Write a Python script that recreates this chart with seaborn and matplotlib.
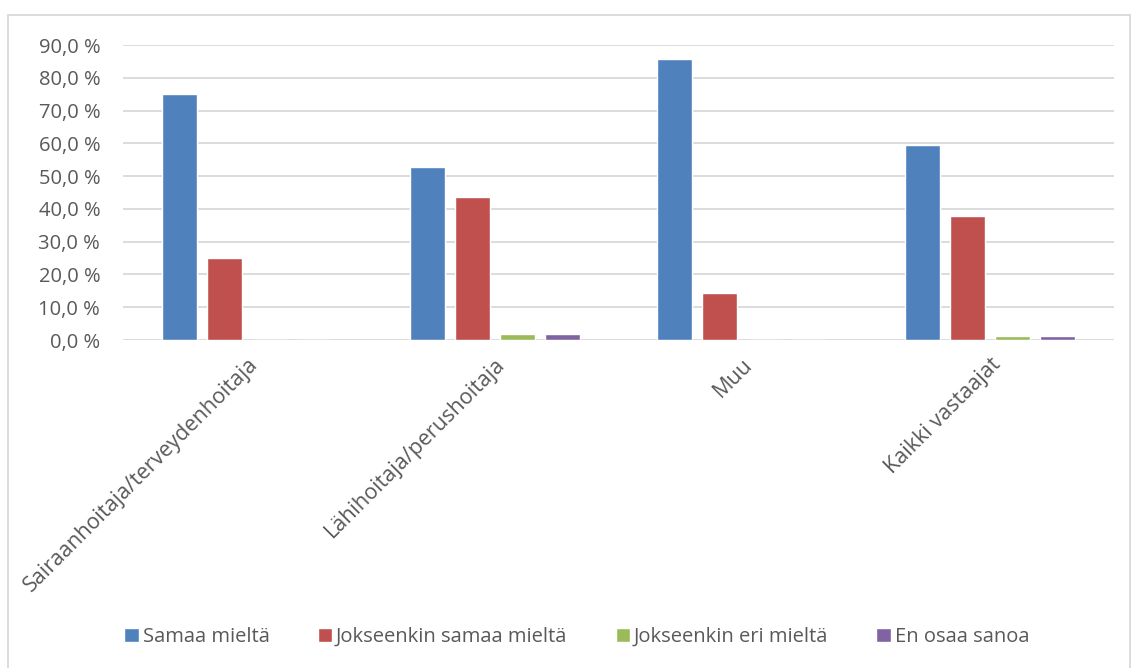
import matplotlib
matplotlib.use("Agg")
import matplotlib.pyplot as plt
import seaborn as sns
import pandas as pd
from matplotlib.ticker import FuncFormatter
from matplotlib.patches import Rectangle

categories = ["Sairaanhoitaja/terveydenhoitaja", "Lähihoitaja/perushoitaja", "Muu", "Kaikki vastaajat"]
series = ["Samaa mieltä", "Jokseenkin samaa mieltä", "Jokseenkin eri mieltä", "En osaa sanoa"]
samaa = [75.0, 52.7, 85.7, 59.5]
jokseenkin_samaa = [25.0, 43.6, 14.3, 37.7]
jokseenkin_eri = [0.0, 1.8, 0.0, 1.3]
en_osaa = [0.0, 1.8, 0.0, 1.3]
colors = ["#4F81BD", "#C0504D", "#9BBB59", "#8064A2"]

rows = []
for s, vals in zip(series, [samaa, jokseenkin_samaa, jokseenkin_eri, en_osaa]):
    for c, v in zip(categories, vals):
        rows.append({"cat": c, "series": s, "value": v})
df = pd.DataFrame(rows)

sns.set_theme(style="white")
plt.rcParams["font.family"] = ["Open Sans", "DejaVu Sans"]

fig = plt.figure(figsize=(11.31, 6.68), dpi=100)
ax = fig.add_axes([0.1088, 0.491, 0.985 - 0.1088, 0.9326 - 0.491])

sns.barplot(data=df, x="cat", y="value", hue="series", order=categories,
            hue_order=series, palette=colors, width=0.727, gap=0.22,
            saturation=1, ax=ax, legend=True)

ax.set_ylim(0, 90)
ax.set_xlim(-0.5, 3.5)
ax.set_yticks(range(0, 91, 10))
ax.yaxis.set_major_formatter(FuncFormatter(lambda v, p: f"{v:.1f} %".replace(".", ",")))
ax.grid(axis="y", color="#D9D9D9", linewidth=1.3)
ax.set_axisbelow(True)
for sp in ax.spines.values():
    sp.set_visible(False)
ax.tick_params(axis="both", length=0, colors="#595959")
ax.tick_params(axis="y", pad=16.5, labelsize=14.5)
ax.tick_params(axis="x", pad=10)
ax.set_xlabel("")
ax.set_ylabel("")
for lab in ax.get_xticklabels():
    lab.set_rotation(45)
    lab.set_ha("right")
    lab.set_rotation_mode("anchor")
    lab.set_fontsize(15.5)

handles, labels = ax.get_legend_handles_labels()
ax.legend_.remove()
fig.legend(handles, labels, loc="center", bbox_to_anchor=(0.51, 1 - 637 / 668), ncol=4,
           frameon=False, fontsize=14.5, handlelength=0.7, handleheight=0.7,
           handletextpad=0.2, columnspacing=2.4, labelcolor="#595959")

fig.patches.append(Rectangle((8 / 1131, -0.01), (1130 - 8) / 1131, 1 - 15 / 668 + 0.01,
                             transform=fig.transFigure, fill=False, edgecolor="#D9D9D9",
                             linewidth=1.3))

fig.savefig("out.png", dpi=100, facecolor="white")
